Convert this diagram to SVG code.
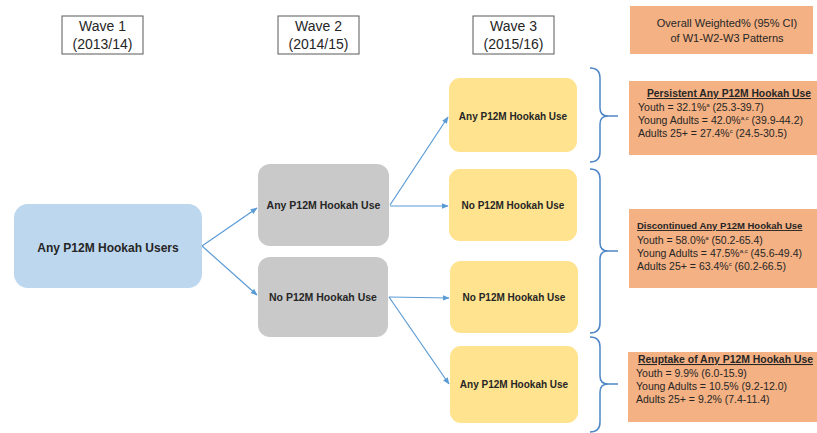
<svg xmlns="http://www.w3.org/2000/svg" width="817" height="433" viewBox="0 0 817 433">
<defs>
<marker id="ah" viewBox="0 0 10 10" refX="9" refY="5" markerWidth="7" markerHeight="7" orient="auto" markerUnits="userSpaceOnUse">
<path d="M0,1 L10,5 L0,9 z" fill="#5B9BD5"/>
</marker>
<style>
.wave{fill:#fff;stroke:#595959;stroke-width:1}
.wt{font-family:"Liberation Sans",Arial,sans-serif;font-size:14px;fill:#262626;text-anchor:middle}
.nb{font-family:"Liberation Sans",Arial,sans-serif;font-weight:bold;fill:#262626;text-anchor:middle}
.blue{fill:#BDD7EE}
.gray{fill:#C9C9C9}
.yel{fill:#FFE38F}
.org{fill:#F4B183}
.con{stroke:#5B9BD5;stroke-width:1.2;fill:none}
.br{stroke:#4F86C6;stroke-width:1.5;fill:none}
.ot{font-family:"Liberation Sans",Arial,sans-serif;font-size:10.5px;fill:#262626}
.oh{font-family:"Liberation Sans",Arial,sans-serif;font-size:10.5px;font-weight:bold;fill:#262626;text-decoration:underline}
.hd{font-family:"Liberation Sans",Arial,sans-serif;font-size:11px;fill:#262626;text-anchor:middle}
.sup{font-size:6px}
</style>
</defs>
<rect width="817" height="433" fill="#fff"/>

<g id="wave1"><rect class="wave" x="62" y="16" width="81" height="38"/><text class="wt" x="102.5" y="31">Wave 1</text><text class="wt" x="102.5" y="49">(2013/14)</text></g>
<g id="wave2"><rect class="wave" x="278" y="16" width="81" height="38"/><text class="wt" x="318.5" y="31">Wave 2</text><text class="wt" x="318.5" y="49">(2014/15)</text></g>
<g id="wave3"><rect class="wave" x="473" y="16" width="81" height="38"/><text class="wt" x="513.5" y="31">Wave 3</text><text class="wt" x="513.5" y="49">(2015/16)</text></g>

<g id="connectors">
<line class="con" x1="202" y1="246" x2="257" y2="208" marker-end="url(#ah)"/>
<line class="con" x1="202" y1="246" x2="257" y2="295" marker-end="url(#ah)"/>
<line class="con" x1="390" y1="205" x2="448" y2="117" marker-end="url(#ah)"/>
<line class="con" x1="390" y1="206" x2="448" y2="206" marker-end="url(#ah)"/>
<line class="con" x1="389" y1="297" x2="449" y2="298" marker-end="url(#ah)"/>
<line class="con" x1="389" y1="297" x2="449" y2="384" marker-end="url(#ah)"/>
</g>

<g id="n-wave1"><rect class="blue" x="14" y="204" width="188" height="84" rx="14"/><text class="nb" x="108" y="252" font-size="12">Any P12M Hookah Users</text></g>
<g id="n-w2-any"><rect class="gray" x="258" y="164" width="131" height="82" rx="12"/><text class="nb" x="323.5" y="209" font-size="10.5">Any P12M Hookah Use</text></g>
<g id="n-w2-no"><rect class="gray" x="258" y="257" width="130" height="80" rx="12"/><text class="nb" x="323" y="301" font-size="10.5">No P12M Hookah Use</text></g>

<g id="n-w3-1"><rect class="yel" x="449" y="78" width="128" height="74" rx="11"/><text class="nb" x="513" y="120" font-size="10">Any P12M Hookah  Use</text></g>
<g id="n-w3-2"><rect class="yel" x="449" y="169" width="128" height="72" rx="11"/><text class="nb" x="513" y="209" font-size="10">No P12M Hookah  Use</text></g>
<g id="n-w3-3"><rect class="yel" x="450" y="261" width="128" height="72" rx="11"/><text class="nb" x="514" y="301" font-size="10">No P12M Hookah  Use</text></g>
<g id="n-w3-4"><rect class="yel" x="450" y="346" width="128" height="77" rx="11"/><text class="nb" x="514" y="388" font-size="10">Any P12M Hookah  Use</text></g>

<g id="braces">
<path class="br" d="M590,68 Q600,68 600,78 L600,108 Q600,116 608,116 L618,116 M608,116 Q600,116 600,124 L600,152 Q600,162 590,162"/>
<path class="br" d="M590,169 Q600,169 600,179 L600,243 Q600,251 608,251 L618,251 M608,251 Q600,251 600,259 L600,323 Q600,333 590,333"/>
<path class="br" d="M590,337 Q600,337 600,347 L600,376 Q600,384 608,384 L618,384 M608,384 Q600,384 600,392 L600,422 Q600,432 590,432"/>
</g>

<g id="hdr"><rect class="org" x="630" y="6" width="183" height="48"/>
<text class="hd" x="727" y="27">Overall Weighted% (95% CI)</text>
<text class="hd" x="727" y="42">of W1-W2-W3 Patterns</text></g>

<g id="persistent"><rect class="org" x="629" y="81" width="188" height="74"/>
<text class="oh" x="647" y="97" textLength="164" lengthAdjust="spacingAndGlyphs">Persistent Any P12M Hookah Use</text>
<text class="ot" x="638" y="111">Youth = 32.1%<tspan class="sup" dy="-4">a</tspan><tspan dy="4"> (25.3-39.7)</tspan></text>
<text class="ot" x="638" y="124">Young Adults = 42.0%<tspan class="sup" dy="-4">a,c</tspan><tspan dy="4"> (39.9-44.2)</tspan></text>
<text class="ot" x="638" y="137">Adults 25+ = 27.4%<tspan class="sup" dy="-4">c</tspan><tspan dy="4"> (24.5-30.5)</tspan></text></g>

<g id="discontinued"><rect class="org" x="629" y="209" width="188" height="79"/>
<text class="oh" x="637" y="229" style="font-size:9.5px">Discontinued Any P12M Hookah Use</text>
<text class="ot" x="637" y="244">Youth = 58.0%<tspan class="sup" dy="-4">a</tspan><tspan dy="4"> (50.2-65.4)</tspan></text>
<text class="ot" x="637" y="257">Young Adults = 47.5%<tspan class="sup" dy="-4">a,c</tspan><tspan dy="4"> (45.6-49.4)</tspan></text>
<text class="ot" x="637" y="270">Adults 25+ = 63.4%<tspan class="sup" dy="-4">c</tspan><tspan dy="4"> (60.2-66.5)</tspan></text></g>

<g id="reuptake"><rect class="org" x="628" y="352" width="189" height="70"/>
<text class="oh" x="638" y="363" textLength="175" lengthAdjust="spacingAndGlyphs">Reuptake of Any P12M Hookah Use</text>
<text class="ot" x="636" y="377">Youth = 9.9% (6.0-15.9)</text>
<text class="ot" x="636" y="390">Young Adults = 10.5% (9.2-12.0)</text>
<text class="ot" x="636" y="403">Adults 25+ = 9.2% (7.4-11.4)</text></g>
</svg>
